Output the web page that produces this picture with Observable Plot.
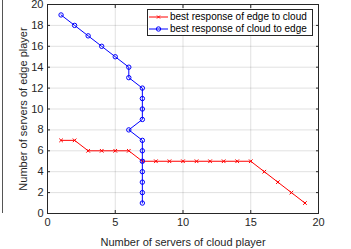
<!DOCTYPE html>
<html><head><meta charset="utf-8">
<script src="https://cdn.jsdelivr.net/npm/d3@7"></script>
<script src="https://cdn.jsdelivr.net/npm/@observablehq/plot@0.6"></script>
<style>
body{margin:0;background:#fff;}
#wrap{position:relative;width:351px;height:249px;font-family:"Liberation Sans",Arial,sans-serif;}
#legend{position:absolute;left:147px;top:9px;width:166px;height:27px;border:1px solid #262626;background:#fff;font-size:10px;color:#000;box-sizing:border-box;}
.row{position:absolute;left:1px;height:12px;line-height:12px;white-space:nowrap;}
.row svg{vertical-align:middle;}
#resid{position:absolute;left:2px;top:0;width:0;height:213px;border-left:1px solid #555;}
</style></head>
<body><div id="wrap"><div id="resid"></div></div>
<script>
// Red: best response of edge to cloud (x = cloud servers, y = edge servers)
const edgeX = [1,2,3,4,5,6,7,8,9,10,11,12,13,14,15,16,17,18,19];
const edgeY = [7,7,6,6,6,6,5,5,5,5,5,5,5,5,5,4,3,2,1];
// Blue: best response of cloud to edge
const cloudY = [19,18,17,16,15,14,13,12,11,10,9,8,7,6,5,4,3,2,1];
const cloudX = [1,2,3,4,5,6,6,7,7,7,7,6,7,7,7,7,7,7,7];
const xTicks = [0,5,10,15,20];
const yTicks = [0,2,4,6,8,10,12,14,16,18,20];
const seriesNames = ["best response of edge to cloud","best response of cloud to edge"];
const colors = ["#ff0000","#0000ff"];

const red = edgeX.map((x,i)=>({x, y: edgeY[i]}));
const blue = cloudX.map((x,i)=>({x, y: cloudY[i]}));
const ink = "#262626";

const chart = Plot.plot({
  width: 351, height: 249,
  marginLeft: 47, marginRight: 33, marginTop: 4, marginBottom: 36,
  style: {fontFamily: '"Liberation Sans", Arial, sans-serif', fontSize: "11px", color: ink, background: "transparent", overflow: "visible"},
  x: {domain: [0,20], ticks: xTicks},
  y: {domain: [0,20], ticks: yTicks},
  marks: [
    Plot.gridX(xTicks, {stroke: "#000", strokeOpacity: 0.12}),
    Plot.gridY(yTicks, {stroke: "#000", strokeOpacity: 0.12}),
    Plot.axisX(xTicks, {anchor: "bottom", tickSize: 0, tickPadding: 5, label: "Number of servers of cloud player", labelAnchor: "center", labelArrow: "none", labelOffset: 32, fontSize: 11}),
    Plot.axisY(yTicks, {anchor: "left", tickSize: 0, tickPadding: 4, label: "Number of servers of edge player", labelAnchor: "center", labelArrow: "none", labelOffset: 28, fontSize: 11}),
    Plot.axisX(xTicks, {anchor: "bottom", tickSize: -3, tickFormat: () => "", label: null}),
    Plot.axisX(xTicks, {anchor: "top", tickSize: -3, tickFormat: () => "", label: null}),
    Plot.axisY(yTicks, {anchor: "left", tickSize: -3, tickFormat: () => "", label: null}),
    Plot.axisY(yTicks, {anchor: "right", tickSize: -3, tickFormat: () => "", label: null}),
    Plot.frame({stroke: ink, strokeWidth: 1}),
    Plot.line(red, {x: "x", y: "y", stroke: colors[0], strokeWidth: 1}),
    Plot.dot(red, {x: "x", y: "y", symbol: "times", r: 1.8, stroke: colors[0], strokeWidth: 1}),
    Plot.line(blue, {x: "x", y: "y", stroke: colors[1], strokeWidth: 1}),
    Plot.dot(blue, {x: "x", y: "y", symbol: "circle", r: 2.2, stroke: colors[1], fill: "none", strokeWidth: 1})
  ]
});
chart.style.position = "absolute";
chart.style.left = "0"; chart.style.top = "0";
const wrap = document.getElementById("wrap");
wrap.appendChild(chart);

const leg = document.createElement("div");
leg.id = "legend";
seriesNames.forEach((name,i)=>{
  const r = document.createElement("div");
  r.className = "row";
  r.style.top = (i===0 ? 1 : 13) + "px";
  const mk = i===0
    ? `<path d="M8,3.5L11,6.5M11,3.5L8,6.5" stroke="${colors[0]}" stroke-width="1"/>`
    : `<circle cx="9.5" cy="5" r="2.2" fill="none" stroke="${colors[1]}" stroke-width="1"/>`;
  r.innerHTML = `<svg width="21" height="10"><line x1="0" x2="19" y1="5" y2="5" stroke="${colors[i]}" stroke-width="1"/>${mk}</svg><span>${name}</span>`;
  leg.appendChild(r);
});
wrap.appendChild(leg);
</script></body></html>
